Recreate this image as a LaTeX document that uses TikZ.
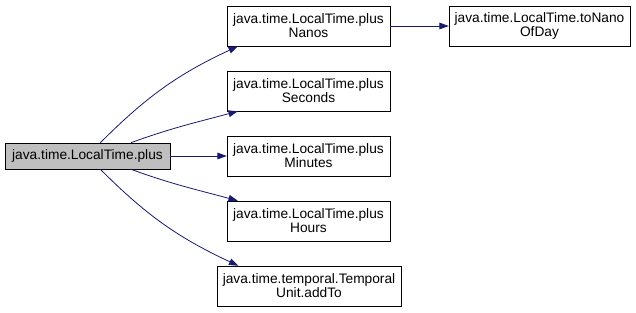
\documentclass[tikz,border=0pt]{standalone}
\usepackage{fontspec}
\setmainfont{Liberation Sans}
\usetikzlibrary{arrows.meta}
\definecolor{edgeblue}{HTML}{191970}
\definecolor{rootgray}{HTML}{BFBFBF}
\begin{document}
\begin{tikzpicture}[x=0.75pt, y=-0.75pt,
    fn/.style={rectangle, draw=black, fill=white, align=center,
      inner sep=0pt, minimum height=30pt, minimum width=122.25pt,
      font=\fontsize{10.3}{10.5}\selectfont}]
    \useasboundingbox (0,0) rectangle (636,313);
    \begin{scope}[every node/.style={fn}]
      \node [fill=rootgray, minimum height=19.5pt, minimum width=123.75pt]
      (plus) at (87.5,156) {java.time.LocalTime.plus};
      \node (nanos) at (308.5,26) {java.time.LocalTime.plus\\Nanos};
      \node [minimum width=135.75pt] (tonano) at (539.5,26)
      {java.time.LocalTime.toNano\\OfDay};
      \node (seconds) at (308.5,91) {java.time.LocalTime.plus\\Seconds};
      \node (minutes) at (308.5,156) {java.time.LocalTime.plus\\Minutes};
      \node (hours) at (308.5,221) {java.time.LocalTime.plus\\Hours};
      \node [minimum width=138pt] (addto) at (309,286)
      {java.time.temporal.Temporal\\Unit.addTo};
    \end{scope}
    \begin{scope}[->,>={Triangle[length=7pt,width=5pt]}, draw=edgeblue,
      semithick]
      \draw (plus.46) to[out=45, in=205] (nanos.196);
      \draw (plus.17) to[out=20, in=195] (seconds.196);
      \draw (plus) to (minutes);
      \draw (plus.-17) to[out=-20, in=165] (hours.164);
      \draw (plus.-46) to[out=-45, in=155] (addto.164);
      \draw (nanos) to (tonano);
    \end{scope}
  \end{tikzpicture}
\end{document}
